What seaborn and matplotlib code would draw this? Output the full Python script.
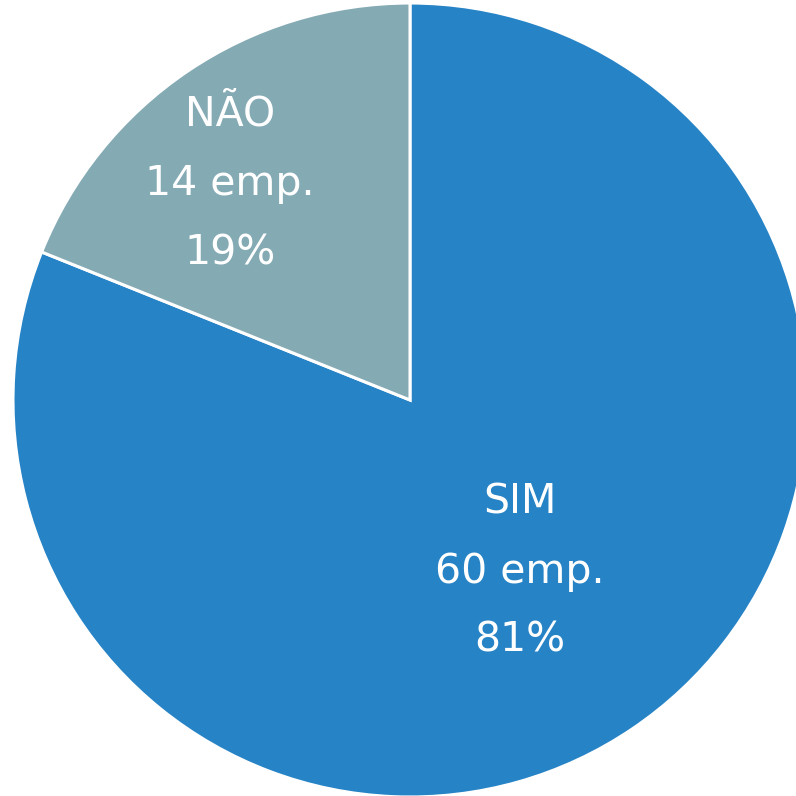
import numpy as np
import matplotlib
matplotlib.use('Agg')
import matplotlib.pyplot as plt
import seaborn as sb

# dados
categorias = ['SIM', 'NÃO']
empresas = [60, 14]
cores = ['#2683C6', '#84AAB4']

sb.set_style('white')
plt.rcParams['font.family'] = ['DejaVu Sans']

total = sum(empresas)
rotulos = ['%s\n%d emp.\n%d%%' % (c, v, round(100 * v / total))
           for c, v in zip(categorias, empresas)]

fig = plt.figure(figsize=(7.96, 7.96), dpi=100)
ax = fig.add_axes([0, 0, 1, 1])

wedges, texts = ax.pie(empresas, labels=rotulos, colors=cores,
                       startangle=90, counterclock=False,
                       labeldistance=0.51,
                       wedgeprops=dict(edgecolor='white', linewidth=2.2),
                       textprops=dict(color='white', fontsize=29.5,
                                      linespacing=1.95, ha='center', va='center'))

# rotulo do NÃO um pouco mais para fora
texts[1].set_position((-0.453, 0.545))
texts[0].set_position((0.277, -0.432))
for t in texts:
    t.set_ha('center')
    t.set_va('center')

ax.set_xlim(-1.0327, 0.9723)
ax.set_ylim(-0.9975, 1.0076)
ax.set_aspect('equal')
ax.axis('off')

fig.savefig('out.png', dpi=100)
